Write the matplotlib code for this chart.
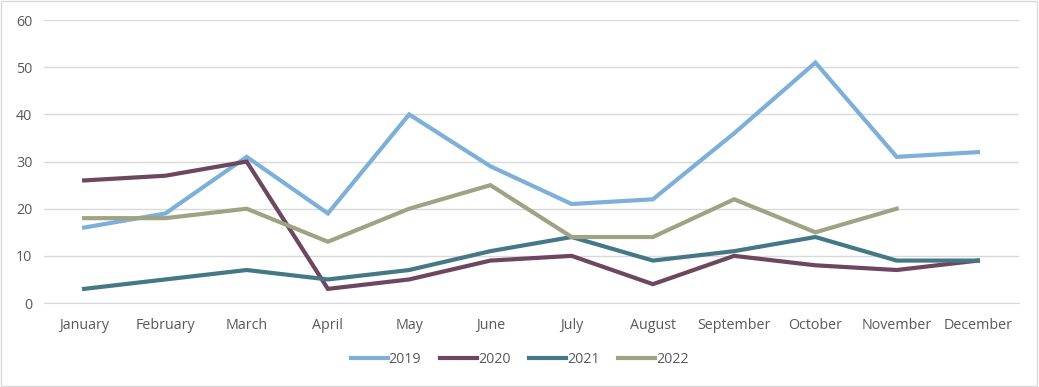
import matplotlib.pyplot as plt
import numpy as np

months = ['January', 'February', 'March', 'April', 'May', 'June', 'July',
          'August', 'September', 'October', 'November', 'December']
y2019 = [16, 19, 31, 19, 40, 29, 21, 22, 36, 51, 31, 32]
y2020 = [26, 27, 30, 3, 5, 9, 10, 4, 10, 8, 7, 9]
y2021 = [3, 5, 7, 5, 7, 11, 14, 9, 11, 14, 9, 9]
y2022 = [18, 18, 20, 13, 20, 25, 14, 14, 22, 15, 20, np.nan]

plt.rcParams['font.family'] = ['Open Sans', 'DejaVu Sans']

fig = plt.figure(figsize=(10.39, 3.87), dpi=100)
ax = fig.add_axes([0.0419, 0.217, 0.9384, 0.731])

x = np.arange(len(months))
series = [('2019', y2019, '#7DB0D9'), ('2020', y2020, '#6D465F'),
          ('2021', y2021, '#447886'), ('2022', y2022, '#9EA383')]
for name, vals, col in series:
    ax.plot(x, vals, color=col, lw=3, label=name, solid_joinstyle='miter')

ax.set_xlim(-0.5, 11.5)
ax.set_ylim(0, 60)
ax.set_yticks(range(0, 61, 10))
ax.set_xticks(x)
ax.set_xticklabels(months)
ax.grid(axis='y', color='#D9D9D9', lw=1)
ax.set_axisbelow(True)
for s in ['top', 'right', 'left']:
    ax.spines[s].set_visible(False)
ax.spines['bottom'].set_color('#D9D9D9')
ax.tick_params(length=0, colors='#595959', labelsize=10.3)
ax.tick_params(axis='x', pad=11)
ax.tick_params(axis='y', pad=8)

fig.legend(loc='center', bbox_to_anchor=(0.5, 0.072), ncol=4, frameon=False,
           fontsize=10.3, labelcolor='#595959', handlelength=2.6,
           handletextpad=0.05, columnspacing=1.3)

fig.patches.append(plt.Rectangle((0.001, 0.002), 0.997, 0.995, transform=fig.transFigure,
                                 fill=False, edgecolor='#D9D9D9', lw=1))

fig.savefig('out.png', dpi=100)
